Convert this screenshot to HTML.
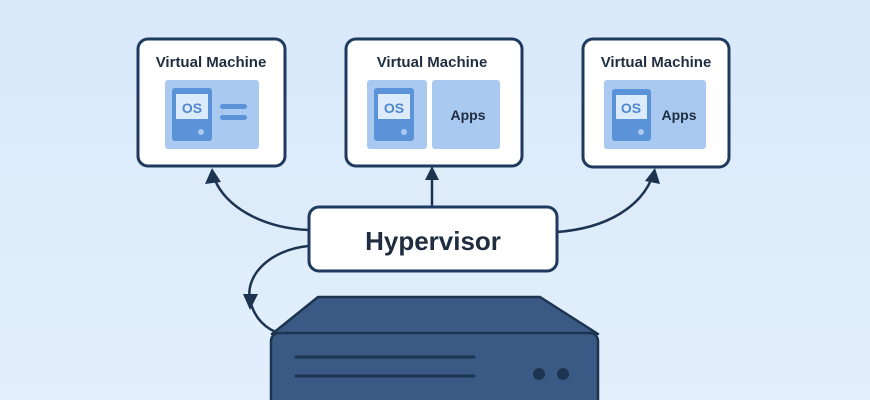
<!DOCTYPE html>
<html><head><meta charset="utf-8"><style>
html,body{margin:0;padding:0;width:870px;height:400px;overflow:hidden;background:#dbeafa}
svg{display:block}
text{font-family:"Liberation Sans",sans-serif;font-weight:bold}
</style></head><body>
<svg width="870" height="400" viewBox="0 0 870 400" xmlns="http://www.w3.org/2000/svg">
<defs>
<linearGradient id="bg" x1="0" y1="0" x2="0" y2="1"><stop offset="0" stop-color="#d9e9fa"/><stop offset="1" stop-color="#e3effb"/></linearGradient>
</defs>
<rect width="870" height="400" fill="url(#bg)"/>
<g fill="none" stroke="#1c3450" stroke-width="2.5">
<path d="M309 230 C260 228 225 205 215 180"/>
<path d="M432 207 L432 178"/>
<path d="M557 232 C610 228 640 205 651 180"/>
<path d="M308 246 C270 250 245 275 250 300 C254 318 266 330 282 334"/>
</g>
<g fill="#1c3450">
<polygon points="212,168 205,184 221,182"/>
<polygon points="432,166 425,180 439,180"/>
<polygon points="655,168 645,181 660,184"/>
<polygon points="250,310 243,294 258,294"/>
</g>
<!-- VM boxes -->
<g stroke="#1f3a5f" stroke-width="3" fill="#fff">
<rect x="138" y="39" width="147" height="127" rx="10"/>
<rect x="346" y="39" width="176" height="127" rx="10"/>
<rect x="583" y="39" width="146" height="128" rx="10"/>
<rect x="309" y="207" width="248" height="64" rx="10"/>
</g>
<g font-size="15" fill="#1f2d40" text-anchor="middle">
<text x="211" y="67">Virtual Machine</text>
<text x="432" y="67">Virtual Machine</text>
<text x="656" y="67">Virtual Machine</text>
</g>
<!-- VM1 -->
<rect x="165" y="80" width="94" height="69" rx="3" fill="#a9c9f0"/>
<rect x="172" y="88" width="40" height="53" rx="3" fill="#5b93d8"/>
<rect x="176" y="94" width="32" height="25" fill="#dcebfb"/>
<text x="192" y="113" font-size="14" fill="#4f88cf" text-anchor="middle">OS</text>
<circle cx="201" cy="132" r="3" fill="#a9c9f0"/>
<rect x="220" y="104" width="27" height="5" rx="2.5" fill="#5b93d8"/>
<rect x="220" y="115" width="27" height="5" rx="2.5" fill="#5b93d8"/>
<!-- VM2 -->
<rect x="367" y="80" width="60" height="69" rx="3" fill="#a9c9f0"/>
<rect x="432" y="80" width="68" height="69" rx="3" fill="#a9c9f0"/>
<rect x="374" y="88" width="40" height="53" rx="3" fill="#5b93d8"/>
<rect x="378" y="94" width="32" height="25" fill="#dcebfb"/>
<text x="394" y="113" font-size="14" fill="#4f88cf" text-anchor="middle">OS</text>
<circle cx="404" cy="132" r="3" fill="#a9c9f0"/>
<text x="468" y="120" font-size="14" fill="#1f2d40" text-anchor="middle">Apps</text>
<!-- VM3 -->
<rect x="604" y="80" width="102" height="69" rx="3" fill="#a9c9f0"/>
<rect x="612" y="89" width="39" height="52" rx="3" fill="#5b93d8"/>
<rect x="616" y="95" width="31" height="24" fill="#dcebfb"/>
<text x="631" y="113" font-size="14" fill="#4f88cf" text-anchor="middle">OS</text>
<circle cx="641" cy="132" r="3" fill="#a9c9f0"/>
<text x="679" y="120" font-size="14" fill="#1f2d40" text-anchor="middle">Apps</text>
<!-- Hypervisor -->
<text x="433" y="250" font-size="26" fill="#1f2d40" text-anchor="middle">Hypervisor</text>
<!-- Server -->
<g stroke="#1c3450" stroke-width="2.5" fill="#3a5a85" stroke-linejoin="round">
<polygon points="318,297 540,297 598,334 272,334"/>
<rect x="271" y="333" width="327" height="80" rx="8"/>
</g>
<g stroke="#1c3450" stroke-width="3" stroke-linecap="round">
<line x1="296" y1="357" x2="474" y2="357"/>
<line x1="296" y1="376" x2="474" y2="376"/>
</g>
<circle cx="539" cy="374" r="6" fill="#1c3450"/>
<circle cx="563" cy="374" r="6" fill="#1c3450"/>
</svg>
</body></html>
